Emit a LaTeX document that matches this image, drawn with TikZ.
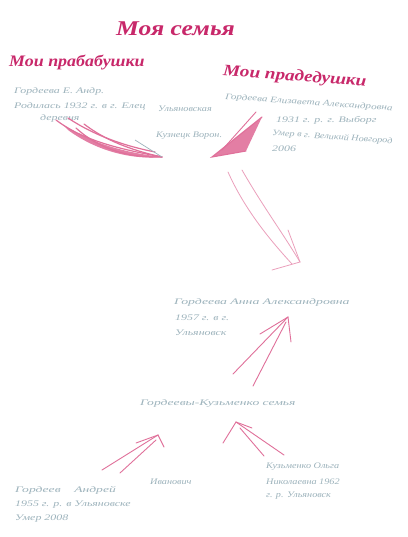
\documentclass[tikz,border=0pt]{standalone}
\usepackage{fontspec}
\setmainfont{Liberation Serif}
\definecolor{ink}{HTML}{C8286A}
\definecolor{penblue}{HTML}{9DB3BC}
\definecolor{arrowpink}{HTML}{E0709A}
\definecolor{palepink}{HTML}{EBA0BC}
\newcommand\wide[2][1.4]{\scalebox{#1}[1]{#2}}
\begin{document}
\begin{tikzpicture}[x=1pt,y=-1pt,
  head/.style={font=\itshape\bfseries, text=ink, inner sep=0pt, anchor=west},
  note/.style={font=\itshape\fontsize{8.5}{10}\selectfont, text=penblue, inner sep=0pt, anchor=west},
  pen/.style={draw=arrowpink, line width=0.9pt, line cap=round},
  palepen/.style={draw=palepink, line width=0.8pt, line cap=round}]
\useasboundingbox (0,0) rectangle (407,537);
\fill[white] (0,0) rectangle (407,537);
% headings
\node[head, font=\itshape\bfseries\fontsize{21}{23}\selectfont] (title) at (116,29) {\wide[1.22]{Моя семья}};
\node[head, font=\itshape\bfseries\fontsize{16}{18}\selectfont] (lh) at (9,63) {\wide[1.12]{Мои прабабушки}};
\node[head, font=\itshape\bfseries\fontsize{16}{18}\selectfont, rotate=-4] (rh) at (223,72) {\wide[1.2]{Мои прадедушки}};
% left notes
\node[note] (l1) at (14,91) {\wide{Гордеева Е. Андр.}};
\node[note] (l2) at (14,106) {\wide{Родилась 1932 г. в г. Елец}};
\node[note] (l2b) at (158,109) {\wide[1.2]{Ульяновская}};
\node[note] (l3) at (40,118) {\wide{деревня}};
\node[note] (l4) at (156,136) {\wide[1.2]{Кузнецк Ворон.}};
% right notes
\node[note, rotate=-4] (r1) at (225,97) {\wide[1.3]{Гордеева Елизавета Александровна}};
\node[note] (r2) at (276,120) {\wide{1931 г. р. г. Выборг}};
\node[note, rotate=-4] (r3) at (272,133) {\wide[1.2]{Умер в г. Великий Новгород}};
\node[note] (r4) at (272,149) {\wide{2006}};
% middle notes
\node[note] (m1) at (174,302) {\wide[1.62]{Гордеева Анна Александровна}};
\node[note] (m2) at (175,318) {\wide{1957 г. в г.}};
\node[note] (m3) at (175,333) {\wide{Ульяновск}};
\node[note] (fam) at (140,403) {\wide[1.6]{Гордеевы-Кузьменко семья}};
% bottom notes
\node[note] (b1) at (15,490) {\wide[1.6]{Гордеев\quad Андрей}};
\node[note] (b1b) at (150,482) {\wide[1.2]{Иванович}};
\node[note] (b2) at (15,505) {\wide{1955 г. р. в Ульяновске}};
\node[note] (b3) at (15,519) {\wide{Умер 2008}};
\node[note] (c1) at (266,467) {\wide[1.2]{Кузьменко Ольга}};
\node[note] (c2) at (266,482) {\wide[1.2]{Николаевна 1962}};
\node[note] (c3) at (266,496) {\wide[1.2]{г. р. Ульяновск}};
% coordinates for connectors
\coordinate (lA) at (62,124); \coordinate (lT) at (162,157);
\coordinate (rA) at (262,117); \coordinate (rT) at (212,157);
\coordinate (mA) at (228,172); \coordinate (mB) at (242,170); \coordinate (mT) at (300,262);
\coordinate (uA) at (233,374); \coordinate (uB) at (253,386); \coordinate (uT) at (288,317);
\coordinate (dA) at (102,470); \coordinate (dB) at (120,473); \coordinate (dT) at (158,435);
\coordinate (eA) at (284,455); \coordinate (eB) at (264,456); \coordinate (eT) at (236,422);
% left swoosh
\fill[arrowpink!90] (lA) .. controls (90,142) and (120,152) .. (lT) .. controls (130,160) and (95,150) .. (68,130) -- cycle;
\draw[pen, line width=1.2pt] (56,120) .. controls (85,142) and (125,150) .. (lT);
\draw[pen, line width=1.2pt] (68,118) .. controls (95,136) and (125,146) .. (155,152);
\draw[pen, line width=1.2pt] (76,128) .. controls (100,150) and (130,158) .. (lT);
\draw[pen, line width=1.2pt] (84,124) .. controls (105,140) and (130,150) .. (lT);
\draw[draw=penblue, line width=0.7pt] (135,140) -- (lT);
% right wedge
\fill[arrowpink!90] (rA) -- (rT) -- (246,151) -- cycle;
\draw[pen, line width=1.1pt] (rA) -- (rT) -- (246,151);
\draw[pen] (256,112) -- (222,150);
% middle downward arrow
\draw[palepen] (mA) .. controls (245,210) and (270,240) .. (292,264);
\draw[palepen] (mB) .. controls (262,205) and (282,232) .. (mT);
\draw[palepen] (288,230) -- (mT) -- (272,270);
% upward arrow to mother
\draw[pen] (uA) -- (uT);
\draw[pen] (uB) -- (286,322);
\draw[pen] (260,334) -- (uT) -- (291,342);
% bottom-left arrow
\draw[pen] (dA) -- (dT);
\draw[pen] (dB) -- (156,440);
\draw[pen] (136,443) -- (dT) -- (164,447);
% bottom-right arrow
\draw[pen] (eA) -- (eT);
\draw[pen] (eB) -- (240,428);
\draw[pen] (223,443) -- (eT) -- (252,428);
\end{tikzpicture}
\end{document}
